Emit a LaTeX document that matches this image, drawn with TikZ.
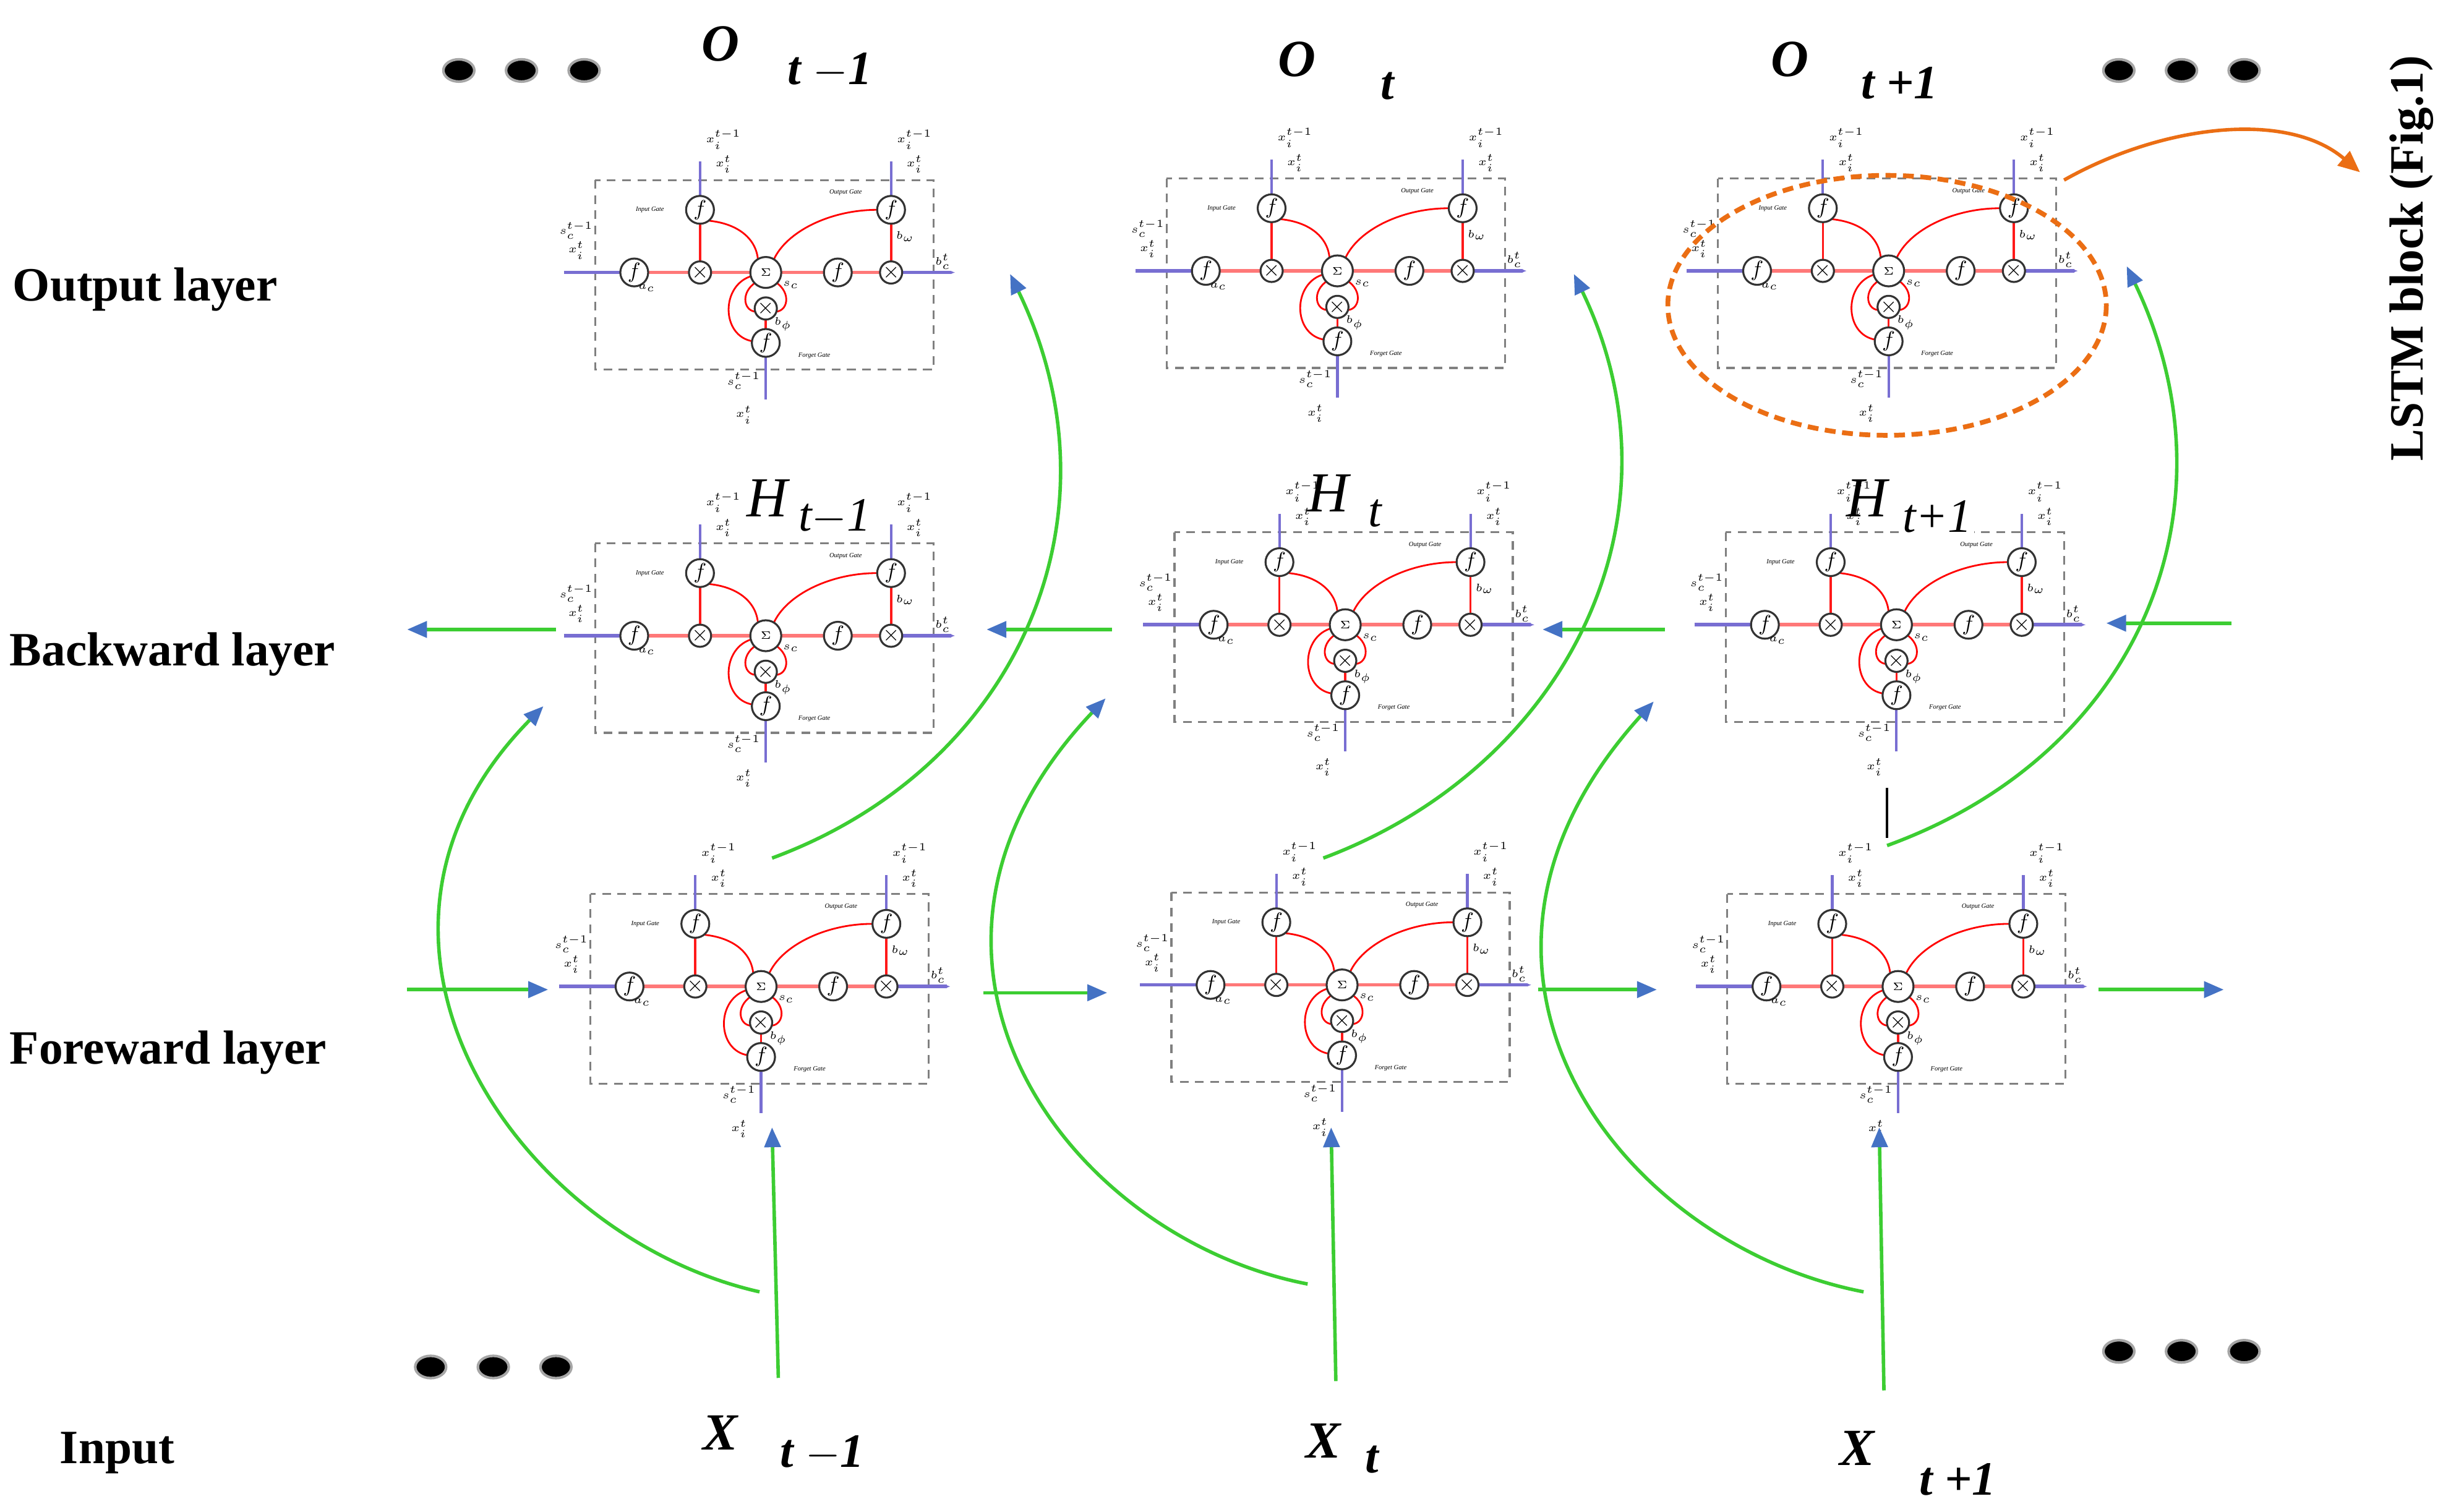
\documentclass[tikz,border=0pt]{standalone}
\usepackage{fontspec}
\setmainfont{Liberation Serif}
\usetikzlibrary{arrows.meta,shapes.geometric}
\definecolor{grn}{RGB}{60,205,50}
\definecolor{tipb}{RGB}{68,114,196}
\definecolor{lred}{RGB}{255,120,120}
\definecolor{lblue}{RGB}{120,110,210}
\definecolor{org}{RGB}{235,110,20}
\tikzset{
 gar/.style={grn,line width=1.6pt,-{Triangle[length=0.32cm,width=0.26cm,color=tipb]}},
 circ/.style={draw=black!80,line width=0.9pt,fill=white,circle,inner sep=0pt,minimum size=0.45cm},
 mult/.style={draw=black!80,line width=0.9pt,fill=white,circle,inner sep=0pt,minimum size=0.26cm},
 tl/.style={font=\fontsize{3}{3}\selectfont\itshape,inner sep=0pt},
 lab/.style={font=\fontsize{22}{25}\selectfont\bfseries,anchor=west,inner sep=0pt},
 sym/.style={font=\fontsize{24}{25}\selectfont\bfseries\itshape,inner sep=0pt},
 sub/.style={font=\fontsize{22}{25}\selectfont\bfseries\itshape,inner sep=0pt},
 hsym/.style={font=\fontsize{26}{25}\selectfont\itshape,inner sep=0pt},
 hsub/.style={font=\fontsize{22}{25}\selectfont,inner sep=0pt},
 dot/.style={fill=black,ellipse,minimum width=0.5cm,minimum height=0.36cm,draw=gray!70,line width=1.2pt},
}
\newcommand\lstm[3]{%
\begin{scope}[shift={(#1,#2)}]
 \draw[gray,dashed,line width=0.9pt,dash pattern=on 4pt off 3pt] (0,0) rectangle (216,121);
 \draw[lblue,line width=1.6pt] (-20,59)--(25,59);
 \draw[lblue,line width=1.6pt,-{Latex[length=2pt]}] (189,59)--(230,59);
 \draw[lblue,line width=1.2pt] (67,-12)--(67,19) (189,-12)--(189,19) (109,104)--(109,140);
 \draw[lred,line width=1.6pt] (25,59)--(189,59);
 \draw[red!90,line width=1pt] (67,19)--(67,59) (189,19)--(189,59) (109,82)--(109,104);
 \draw[red,line width=0.8pt] (73,26) .. controls (92,28) and (103,38) .. (104,51);
 \draw[red,line width=0.8pt] (180,19) .. controls (150,19) and (122,33) .. (114,51);
 \draw[red,line width=0.8pt] (103,65) .. controls (92,72) and (95,85) .. (104,84);
 \draw[red,line width=0.8pt] (115,65) .. controls (126,72) and (123,85) .. (114,84);
 \draw[red,line width=0.8pt] (101,61) .. controls (80,66) and (80,100) .. (101,103);
 \node[circ] (#3a) at (25,59) {$f$};
 \node[mult] (#3b) at (67,59) {$\times$};
 \node[circ,minimum size=0.5cm] (#3c) at (109,59) {\tiny$\Sigma$};
 \node[circ] (#3d) at (155,59) {$f$};
 \node[mult] (#3e) at (189,59) {$\times$};
 \node[circ] (#3f) at (67,19) {$f$};
 \node[circ] (#3g) at (189,19) {$f$};
 \node[mult] (#3h) at (109,82) {$\times$};
 \node[circ] (#3i) at (109,104) {$f$};
 \node[tl] at (35,19) {Input Gate};
 \node[tl] at (160,8) {Output Gate};
 \node[tl] at (140,112) {Forget Gate};
 \node[tl] at (33,69) {$a_c$}; \node[tl] at (125,67) {$s_c$};\node[tl] at (198,36) {$b_\omega$};\node[tl] at (120,92) {$b_\phi$};
 \node[tl] at (-12,32) {$s_c^{t-1}$}; \node[tl] at (-12,45) {$x_i^{t}$};
 \node[tl] at (222,52) {$b_c^{t}$};
 \node[tl] at (82,-26) {$x_i^{t-1}$}; \node[tl] at (82,-10) {$x_i^{t}$};
 \node[tl] at (204,-26) {$x_i^{t-1}$}; \node[tl] at (204,-10) {$x_i^{t}$};
 \node[tl] at (95,128) {$s_c^{t-1}$}; \node[tl] at (95,150) {$x_i^{t}$};
\end{scope}}
\begin{document}
\begin{tikzpicture}[x=0.02532cm,y=-0.02532cm]
\useasboundingbox (0,0) rectangle (1560,965.3);
\lstm{380}{115}{o1}\lstm{745}{114}{o2}\lstm{1097}{114}{o3}
\lstm{380}{347}{b1}\lstm{750}{340}{b2}\lstm{1102}{340}{b3}
\lstm{377}{571}{f1}\lstm{748}{570}{f2}\lstm{1103}{571}{f3}
% layer labels
\node[lab] (lo) at (8,185) {Output layer};
\node[lab] (lb) at (6,418) {Backward layer};
\node[lab] (lf) at (6,672) {Foreward layer};
\node[lab] (li) at (38,928) {Input};
% symbols
\node[sym] at (460,28) {O}; \node[sub] at (530,45) {t $-$1};
\node[sym] at (828,38) {O}; \node[sub] at (886,55) {t};
\node[sym] at (1143,38) {O}; \node[sub] at (1213,53) {t +1};
\node[hsym] at (490,318) {H}; \node[hsub,fill=white,inner sep=1pt] at (533,330) {\itshape t$-$1};
\node[hsym] at (848,315) {H}; \node[hsub] at (878,328) {\itshape t};
\node[hsym] at (1192,318) {H}; \node[hsub,fill=white,inner sep=1pt] at (1237,330) {\itshape t+1};
\node[sym] at (460,915) {X}; \node[sub] at (525,928) {t $-$1};
\node[sym] at (845,920) {X}; \node[sub] at (876,932) {t};
\node[sym] at (1186,925) {X}; \node[sub] at (1250,945) {t +1};
% dots
\foreach \x/\y in {293/45,333/45,373/45,1353/45,1393/45,1433/45,275/873,315/873,355/873,1353/863,1393/863,1433/863}
  \node[dot] at (\x,\y) {};
% LSTM block highlight
\draw[org,line width=2.2pt,dash pattern=on 5pt off 3pt] (1205,195) ellipse [x radius=140,y radius=83];
\coordinate (ea) at (1318,115); \coordinate (eb) at (1507,110);
\draw[org,line width=1.6pt,-{Triangle[length=0.35cm,width=0.3cm]}] (ea) .. controls (1380,80) and (1460,70) .. (eb);
\node[font=\fontsize{22}{24}\selectfont\bfseries,rotate=90] (lstmlab) at (1540,165) {LSTM block (Fig.1)};
% backward arrows
\foreach \a/\b/\y in {355/260/402,710/630/402,1063/985/402,1425/1345/398}
  {\coordinate (s) at (\a,\y); \coordinate (e) at (\b,\y); \draw[gar] (s)--(e);}
% forward arrows
\foreach \a/\b/\y in {260/350/632,628/707/634,982/1058/632,1340/1420/632}
  {\coordinate (s) at (\a,\y); \coordinate (e) at (\b,\y); \draw[gar] (s)--(e);}
% input arrows
\foreach \a/\b/\y in {497/493/880,853/850/882,1203/1200/888}
  {\coordinate (s) at (\a,\y); \coordinate (e) at (\b,720); \draw[gar] (s)--(e);}
% input to backward curves
\coordinate (c1s) at (485,825); \coordinate (c1e) at (347,451);
\draw[gar] (c1s) .. controls (330,790) and (200,600) .. (c1e);
\coordinate (c2s) at (835,820); \coordinate (c2e) at (706,446);
\draw[gar] (c2s) .. controls (680,790) and (550,610) .. (c2e);
\coordinate (c3s) at (1190,825); \coordinate (c3e) at (1056,448);
\draw[gar] (c3s) .. controls (1035,795) and (900,620) .. (c3e);
% forward to output curves
\coordinate (d1s) at (493,548); \coordinate (d1e) at (645,175);
\draw[gar] (d1s) .. controls (650,490) and (720,330) .. (d1e);
\coordinate (d2s) at (845,548); \coordinate (d2e) at (1005,175);
\draw[gar] (d2s) .. controls (1000,490) and (1080,330) .. (d2e);
\coordinate (d3s) at (1205,540); \coordinate (d3e) at (1358,170);
\draw[gar] (d3s) .. controls (1370,480) and (1430,320) .. (d3e);
\coordinate (v1) at (1205,503); \coordinate (v2) at (1205,535);
\draw[black,line width=1.2pt] (v1)--(v2);
\end{tikzpicture}
\end{document}
